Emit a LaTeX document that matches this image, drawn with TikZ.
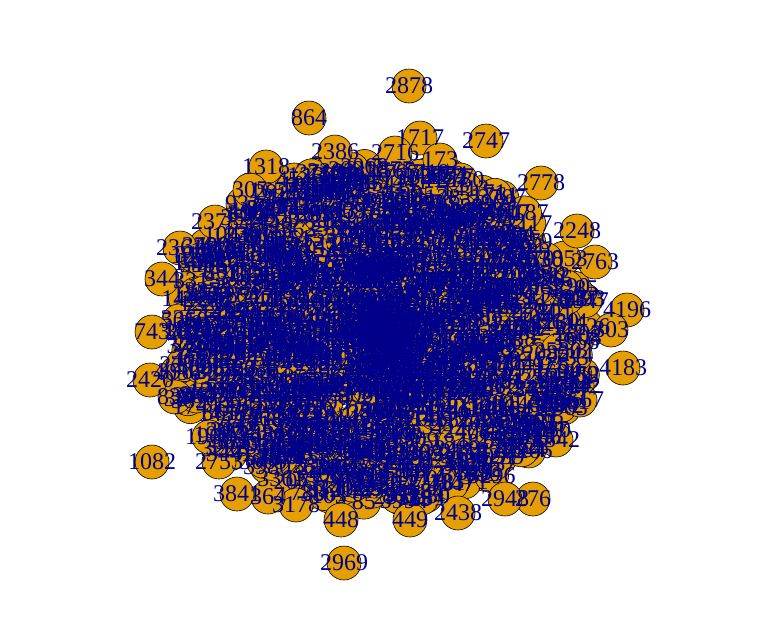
\documentclass[tikz,border=0pt]{standalone}
\usepackage{fontspec}
\setmainfont{Liberation Serif}
\definecolor{vorange}{RGB}{230,159,0}
\definecolor{vblue}{RGB}{0,0,139}
\tikzset{
  vert/.style={circle,draw=black,line width=0.6pt,fill=vorange,minimum size=34pt,inner sep=0pt},
  vlab/.style={text=vblue,inner sep=0pt,font=\fontsize{24}{24}\selectfont}
}
\newcommand{\outerlist}{409/86/2878, 309/118/864, 420/138/1717, 486/141/2747, 335/152/2386, 395/153/2716, 266/167/1318, 440/160/173, 541/183/2778, 577/231/2248, 595/262/2763, 627/310/4196, 611/330/803, 623/368/4183, 580/400/2667, 556/440/2542, 533/499/276, 505/499/2948, 458/513/2438, 410/520/449, 341/520/448, 296/505/3178, 268/497/364, 237/494/3841, 152/462/1082, 219/462/2753, 209/437/1966, 175/397/839, 150/380/2420, 152/332/743, 162/279/344, 215/222/2378, 180/248/2361, 243/204/932, 250/190/305, 344/563/2969}
\begin{document}
\begin{tikzpicture}[x=1pt,y=-1pt]
\useasboundingbox (0,0) rectangle (768,641);
\fill[white] (0,0) rectangle (768,641);
% interior vertices: circles first
\pgfmathsetseed{4711}
\foreach \i in {1,...,1100}{
  \pgfmathsetmacro\ang{360*rnd}
  \pgfmathsetmacro\rr{rnd^0.7}
  \pgfmathtruncatemacro\lab{random(1,4200)}
  \node[vert] (v\i) at ({380+210*\rr*cos(\ang)},{335+170*\rr*sin(\ang)}) {};
}
\foreach \x/\y/\t in \outerlist{
  \node[vert] (o\t) at (\x,\y) {};
}
% labels drawn after all circles
\pgfmathsetseed{4711}
\foreach \i in {1,...,1100}{
  \pgfmathsetmacro\ang{360*rnd}
  \pgfmathsetmacro\rr{rnd^0.7}
  \pgfmathtruncatemacro\lab{random(1,4200)}
  \node[vlab] (l\i) at ({380+210*\rr*cos(\ang)},{335+170*\rr*sin(\ang)}) {\lab};
}
\foreach \x/\y/\t in \outerlist{
  \node[vlab] (lo\t) at (\x,\y) {\t};
}
\end{tikzpicture}
\end{document}
